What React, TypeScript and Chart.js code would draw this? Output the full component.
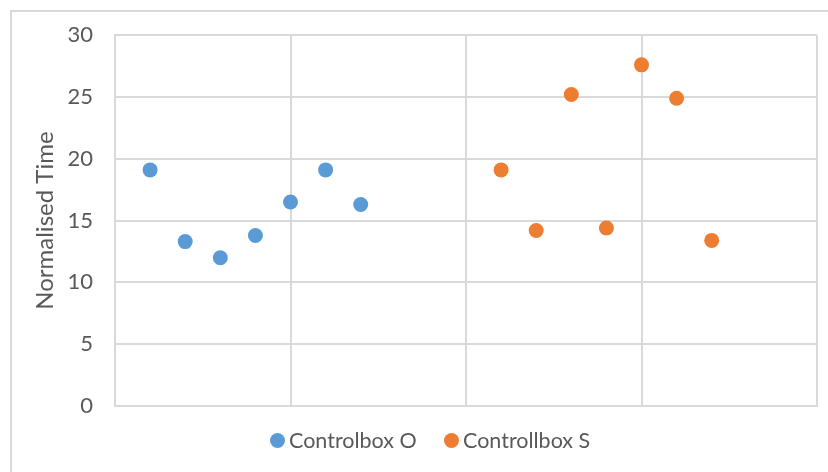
import React, { useEffect, useRef } from "react";
import { Chart, registerables } from "chart.js";

Chart.register(...registerables);

const seriesNames = ["Controlbox O", "Controllbox S"];
const colors = ["#5B9BD5", "#ED7D31"];
const xO = [1, 2, 3, 4, 5, 6, 7];
const yO = [19.1, 13.3, 12.0, 13.8, 16.5, 19.1, 16.3];
const xS = [11, 12, 13, 14, 15, 16, 17];
const yS = [19.1, 14.2, 25.2, 14.4, 27.6, 24.9, 13.4];
const yTitle = "Normalised Time";

const FONT = "Lato, 'Liberation Sans', sans-serif";
const TEXT = "#595959";
const GRID = "#D9D9D9";

export default function App() {
  const ref = useRef<HTMLCanvasElement | null>(null);
  useEffect(() => {
    if (!ref.current) return;
    const chart = new Chart(ref.current, {
      type: "scatter",
      data: {
        datasets: [
          {
            label: seriesNames[0],
            data: xO.map((x, i) => ({ x, y: yO[i] })),
            backgroundColor: colors[0],
            borderColor: colors[0],
            pointRadius: 7.5,
            borderWidth: 0,
          },
          {
            label: seriesNames[1],
            data: xS.map((x, i) => ({ x, y: yS[i] })),
            backgroundColor: colors[1],
            borderColor: colors[1],
            pointRadius: 7.5,
            borderWidth: 0,
          },
        ],
      },
      options: {
        responsive: false,
        animation: false,
        layout: { padding: { top: 34, right: 11, bottom: 66, left: 0 } },
        plugins: { legend: { display: false }, tooltip: { enabled: false } },
        scales: {
          x: {
            type: "linear",
            min: 0,
            max: 20,
            ticks: { display: false, stepSize: 5 },
            grid: { color: GRID, lineWidth: 2, drawTicks: false },
            border: { color: GRID, width: 2 },
            afterFit: (s: any) => {
              s.height = 0;
            },
          },
          y: {
            min: 0,
            max: 30,
            ticks: {
              stepSize: 5,
              color: TEXT,
              font: { family: FONT, size: 22 },
              padding: 22,
            },
            grid: { color: GRID, lineWidth: 2, drawTicks: false },
            border: { color: GRID, width: 2 },
            title: {
              display: true,
              text: yTitle,
              color: TEXT,
              font: { family: FONT, size: 24 },
              padding: { top: 31, bottom: 0 },
            },
            afterFit: (s: any) => {
              s.width = 115;
            },
          },
        },
      },
    });
    return () => chart.destroy();
  }, []);

  const legendItem = (i: number, left: number) => (
    <div
      style={{
        position: "absolute",
        left,
        top: 428,
        display: "flex",
        alignItems: "center",
        height: 24,
        fontFamily: FONT,
        fontSize: 21.5,
        color: TEXT,
        whiteSpace: "nowrap",
      }}
    >
      <span
        style={{
          display: "inline-block",
          width: 15,
          height: 15,
          borderRadius: "50%",
          background: colors[i],
          marginRight: 4,
        }}
      />
      <span>{seriesNames[i]}</span>
    </div>
  );

  return (
    <div
      style={{
        position: "absolute",
        left: 0,
        top: 0,
        width: 828,
        height: 472,
        overflow: "hidden",
        background: "#fff",
      }}
    >
      <div
        style={{
          position: "absolute",
          left: 10,
          top: 10,
          width: 900,
          height: 600,
          border: "2px solid #D9D9D9",
          boxSizing: "border-box",
        }}
      />
      <canvas
        ref={ref}
        width={828}
        height={472}
        style={{ position: "absolute", left: 0, top: 0 }}
      />
      {legendItem(0, 270)}
      {legendItem(1, 444)}
    </div>
  );
}
